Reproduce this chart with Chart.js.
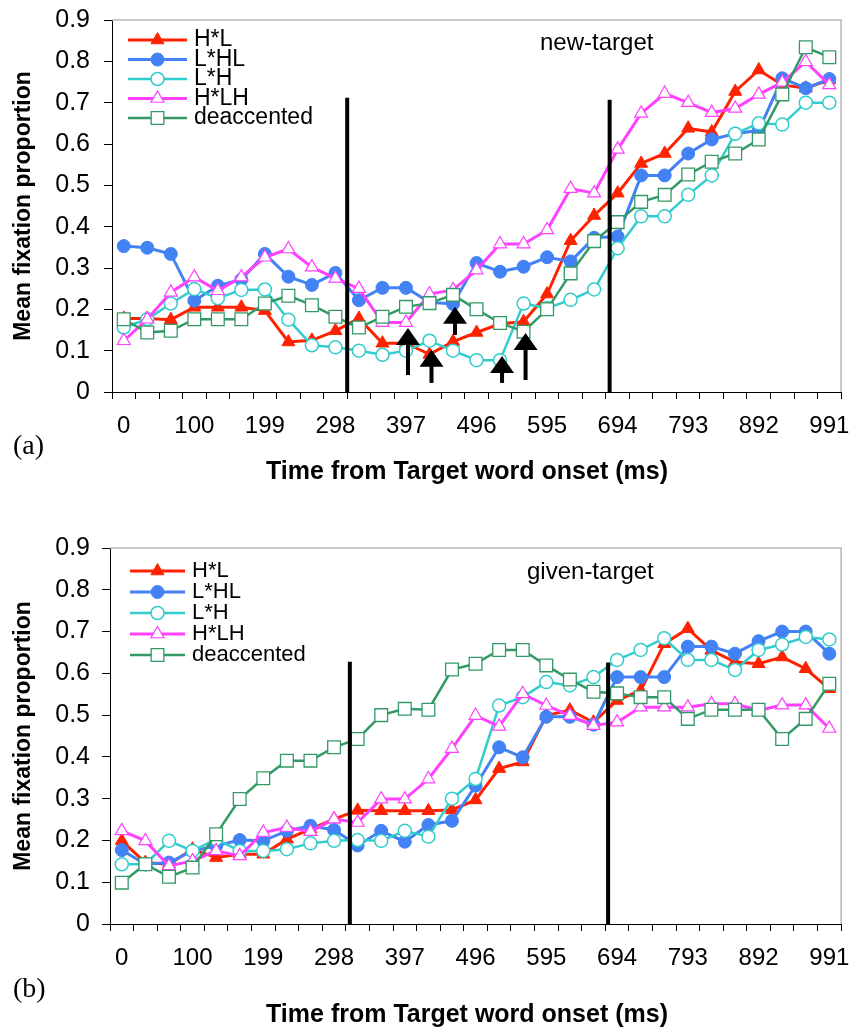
<!DOCTYPE html>
<html>
<head>
<meta charset="utf-8">
<script src="https://cdn.jsdelivr.net/npm/chart.js@4.4.0/dist/chart.umd.min.js"></script>
<style>
  body { margin: 0; background: #fff; }
  .painel { position: absolute; left: 0; }
</style>
</head>
<body>
<div class="painel" style="top:0"><canvas id="graficoA" width="862" height="520"></canvas></div>
<div class="painel" style="top:520px"><canvas id="graficoB" width="862" height="510"></canvas></div>
<script>
// Rótulos do eixo x (um por intervalo de ~33 ms, só cada terceiro aparece)
var timeLabels = ['0', '', '', '100', '', '', '199', '', '', '298', '', '', '397', '', '', '496', '', '',
                  '595', '', '', '694', '', '', '793', '', '', '892', '', '', '991'];
var seriesNames = ['H*L', 'L*HL', 'L*H', 'H*LH', 'deaccented'];

// (a) new-target
var newHL   = [0.178, 0.178, 0.175, 0.205, 0.205, 0.205, 0.197, 0.121, 0.125, 0.148, 0.178, 0.118, 0.118, 0.091, 0.122, 0.144,
               0.165, 0.170, 0.237, 0.366, 0.427, 0.481, 0.553, 0.577, 0.638, 0.629, 0.727, 0.779, 0.743, 0.735, 0.755];
var newLHL  = [0.353, 0.349, 0.334, 0.221, 0.257, 0.272, 0.334, 0.279, 0.259, 0.288, 0.222, 0.252, 0.252, 0.217, 0.213, 0.312,
               0.291, 0.303, 0.326, 0.316, 0.373, 0.376, 0.524, 0.524, 0.577, 0.611, 0.625, 0.633, 0.759, 0.735, 0.757];
var newLH   = [0.156, 0.176, 0.214, 0.249, 0.227, 0.247, 0.248, 0.175, 0.113, 0.108, 0.100, 0.090, 0.100, 0.124, 0.100, 0.077,
               0.077, 0.214, 0.203, 0.223, 0.248, 0.348, 0.425, 0.425, 0.477, 0.524, 0.625, 0.650, 0.647, 0.700, 0.700];
var newHLH  = [0.124, 0.176, 0.241, 0.278, 0.245, 0.278, 0.326, 0.346, 0.302, 0.275, 0.250, 0.168, 0.168, 0.237, 0.247, 0.295,
               0.358, 0.358, 0.392, 0.492, 0.481, 0.587, 0.674, 0.722, 0.700, 0.676, 0.686, 0.720, 0.749, 0.799, 0.743];
var newDeac = [0.176, 0.144, 0.148, 0.176, 0.176, 0.176, 0.214, 0.233, 0.210, 0.182, 0.156, 0.182, 0.206, 0.215, 0.235, 0.200,
               0.167, 0.146, 0.200, 0.287, 0.365, 0.411, 0.460, 0.477, 0.526, 0.557, 0.577, 0.611, 0.720, 0.834, 0.810];

// (b) given-target
var givenHL   = [0.199, 0.147, 0.143, 0.179, 0.159, 0.167, 0.167, 0.203, 0.227, 0.251, 0.272, 0.271, 0.271, 0.271, 0.273, 0.297,
                 0.372, 0.388, 0.499, 0.512, 0.483, 0.535, 0.559, 0.671, 0.707, 0.655, 0.627, 0.623, 0.639, 0.611, 0.563];
var givenLHL  = [0.177, 0.143, 0.147, 0.175, 0.187, 0.201, 0.199, 0.223, 0.235, 0.225, 0.188, 0.223, 0.197, 0.237, 0.247, 0.331,
                 0.423, 0.399, 0.496, 0.496, 0.477, 0.591, 0.591, 0.591, 0.664, 0.664, 0.647, 0.677, 0.700, 0.700, 0.647];
var givenLH   = [0.143, 0.143, 0.199, 0.175, 0.203, 0.175, 0.175, 0.179, 0.193, 0.199, 0.201, 0.199, 0.223, 0.209, 0.300, 0.347,
                 0.523, 0.543, 0.579, 0.571, 0.591, 0.632, 0.656, 0.684, 0.632, 0.632, 0.608, 0.656, 0.669, 0.687, 0.681];
var givenHLH  = [0.223, 0.199, 0.139, 0.151, 0.175, 0.163, 0.219, 0.231, 0.221, 0.251, 0.243, 0.299, 0.299, 0.347, 0.420, 0.499,
                 0.473, 0.551, 0.523, 0.499, 0.475, 0.483, 0.519, 0.519, 0.519, 0.527, 0.527, 0.511, 0.524, 0.524, 0.468];
var givenDeac = [0.099, 0.143, 0.113, 0.135, 0.215, 0.299, 0.349, 0.391, 0.391, 0.423, 0.443, 0.500, 0.515, 0.513, 0.609, 0.623,
                 0.656, 0.656, 0.619, 0.585, 0.556, 0.552, 0.543, 0.543, 0.491, 0.513, 0.513, 0.513, 0.443, 0.491, 0.575];

// Linhas verticais pretas (posição em unidades de categoria e altura)
var newLines = [9.5, 20.66];
var newLineTops = [0.712, 0.707];
var givenLines = [9.67, 20.62];
var givenLineTops = [0.628, 0.626];

// Setas do painel (a)
var arrowCats = [12, 13, 14, 16, 17];
var arrowTops = [0.155, 0.102, 0.206, 0.087, 0.143];
var arrowBottoms = [0.041, 0.022, 0.138, 0.022, 0.029];

var fonte = "'Liberation Sans', Arial, sans-serif";

// Estilo de cada série (na ordem da legenda)
var estilos = [
    { cor: '#ff2200', fundo: '#ff2200', ponto: 'triangle', raio: 7.5, linha: 3, borda: 1 },
    { cor: '#4282f4', fundo: '#4282f4', ponto: 'circle', raio: 6.5, linha: 3, borda: 1 },
    { cor: '#33cccc', fundo: '#ffffff', ponto: 'circle', raio: 6.5, linha: 2.5, borda: 1.5 },
    { cor: '#ff40ff', fundo: '#ffffff', ponto: 'triangle', raio: 7.5, linha: 3, borda: 1.2 },
    { cor: '#339966', fundo: '#ffffff', ponto: 'rect', raio: 9, linha: 2.5, borda: 1.3 }
];

// Desenha um marcador igual ao do Chart.js (usado na legenda)
function desenharMarcador(ctx, est, x, y) {
    var r = est.raio;
    ctx.beginPath();
    if (est.ponto === 'triangle') {
        var s = Math.sin(2 * Math.PI / 3) * r;
        ctx.moveTo(x, y - r);
        ctx.lineTo(x + s, y + r / 2);
        ctx.lineTo(x - s, y + r / 2);
        ctx.closePath();
    } else if (est.ponto === 'rect') {
        var h = Math.SQRT1_2 * r;
        ctx.rect(x - h, y - h, 2 * h, 2 * h);
    } else {
        ctx.arc(x, y, r, 0, Math.PI * 2);
    }
    ctx.fillStyle = est.fundo;
    ctx.strokeStyle = est.cor;
    ctx.lineWidth = est.borda;
    ctx.fill();
    ctx.stroke();
}

// Plugin com linhas, setas, legenda e textos extras
function criarSobreposicao(cfg) {
    return {
        id: 'sobreposicao',
        afterDatasetsDraw: function (chart) {
            var ctx = chart.ctx;
            var area = chart.chartArea;
            var xs = chart.scales.x;
            var ys = chart.scales.y;
            ctx.save();

            // moldura cinza (topo e direita)
            ctx.strokeStyle = '#b4b4b4';
            ctx.lineWidth = 1.5;
            ctx.beginPath();
            ctx.moveTo(area.left, area.top);
            ctx.lineTo(area.right, area.top);
            ctx.lineTo(area.right, area.bottom);
            ctx.stroke();

            // linhas verticais
            ctx.strokeStyle = '#000';
            ctx.lineWidth = 4;
            cfg.linhas.forEach(function (pos, i) {
                var px = xs.getPixelForValue(pos);
                ctx.beginPath();
                ctx.moveTo(px, ys.getPixelForValue(0));
                ctx.lineTo(px, ys.getPixelForValue(cfg.topos[i]));
                ctx.stroke();
            });

            // setas
            if (cfg.setas) {
                ctx.fillStyle = '#000';
                cfg.setas.cats.forEach(function (c, i) {
                    var px = xs.getPixelForValue(c) + 2;
                    var yt = ys.getPixelForValue(cfg.setas.topos[i]);
                    var yb = ys.getPixelForValue(cfg.setas.bases[i]);
                    ctx.fillRect(px - 2, yt + 15, 4, yb - yt - 15);
                    ctx.beginPath();
                    ctx.moveTo(px, yt);
                    ctx.lineTo(px + 12, yt + 17);
                    ctx.lineTo(px - 12, yt + 17);
                    ctx.closePath();
                    ctx.fill();
                });
            }

            // legenda
            var leg = cfg.legenda;
            ctx.font = leg.tamanho + 'px ' + fonte;
            ctx.textBaseline = 'middle';
            ctx.textAlign = 'left';
            seriesNames.forEach(function (nome, i) {
                var est = estilos[i];
                var ly = leg.y + i * leg.passo;
                ctx.strokeStyle = est.cor;
                ctx.lineWidth = est.linha;
                ctx.beginPath();
                ctx.moveTo(leg.x1, ly);
                ctx.lineTo(leg.x2, ly);
                ctx.stroke();
                desenharMarcador(ctx, est, (leg.x1 + leg.x2) / 2, ly);
                ctx.fillStyle = '#000';
                ctx.fillText(nome, leg.xTexto, ly);
            });

            // nome do painel
            ctx.fillStyle = '#000';
            ctx.font = '24px ' + fonte;
            ctx.fillText(cfg.nome, cfg.nomeX, cfg.nomeY);

            // título do eixo x
            ctx.font = 'bold 25px ' + fonte;
            ctx.textAlign = 'center';
            ctx.fillText('Time from Target word onset (ms)', cfg.tituloX, cfg.tituloY);

            // letra do painel
            ctx.font = "28px 'Liberation Serif', 'Times New Roman', serif";
            ctx.textAlign = 'left';
            ctx.fillText(cfg.letra, 13, cfg.letraY);

            ctx.restore();
        }
    };
}

function criarGrafico(id, dados, cfg) {
    var datasets = dados.map(function (valores, i) {
        var est = estilos[i];
        return {
            label: seriesNames[i],
            data: valores,
            borderColor: est.cor,
            backgroundColor: est.fundo,
            borderWidth: est.linha,
            pointStyle: est.ponto,
            pointRadius: est.raio,
            pointBackgroundColor: est.fundo,
            pointBorderColor: est.cor,
            pointBorderWidth: est.borda,
            tension: 0,
            order: 5 - i
        };
    });

    var ctx = document.getElementById(id).getContext('2d');
    return new Chart(ctx, {
        type: 'line',
        data: { labels: timeLabels, datasets: datasets },
        options: {
            responsive: false,
            animation: false,
            devicePixelRatio: 1,
            events: [],
            layout: { padding: { top: cfg.topo, right: cfg.direita, left: 0, bottom: 0 } },
            plugins: { legend: { display: false }, tooltip: { enabled: false } },
            scales: {
                x: {
                    type: 'category',
                    offset: true,
                    afterFit: function (scale) { scale.height = cfg.alturaX; },
                    border: { display: true, color: '#000', width: 1 },
                    grid: { offset: true, drawOnChartArea: false, drawTicks: true, tickLength: 7, color: '#000', lineWidth: 1 },
                    ticks: {
                        autoSkip: false, maxRotation: 0, minRotation: 0, padding: 12.5,
                        color: '#000', font: { family: fonte, size: 24 }
                    }
                },
                y: {
                    min: 0,
                    max: 0.9,
                    afterFit: function (scale) {
                        // largura fixa e sem folga extra acima/abaixo
                        scale.width = cfg.esquerda;
                        scale.paddingTop = 0;
                        scale.paddingBottom = 0;
                    },
                    border: { display: true, color: '#000', width: 1 },
                    grid: { drawOnChartArea: false, drawTicks: true, tickLength: 8, color: '#000', lineWidth: 1 },
                    ticks: {
                        stepSize: 0.1, padding: cfg.padY, color: '#000',
                        font: { family: fonte, size: 25 },
                        callback: function (v) { return v === 0 ? '0' : v.toFixed(1); }
                    },
                    title: {
                        display: true,
                        text: 'Mean fixation proportion',
                        color: '#000',
                        font: { family: fonte, size: 23, weight: 'bold' },
                        padding: { top: 10, bottom: 0 }
                    }
                }
            }
        },
        plugins: [criarSobreposicao(cfg)]
    });
}

criarGrafico('graficoA', [newHL, newLHL, newLH, newHLH, newDeac], {
    topo: 20, direita: 9, esquerda: 112, alturaX: 128, padY: 14,
    linhas: newLines, topos: newLineTops,
    setas: { cats: arrowCats, topos: arrowTops, bases: arrowBottoms },
    legenda: { y: 40, passo: 19.5, x1: 128, x2: 187, xTexto: 194, tamanho: 23 },
    nome: 'new-target', nomeX: 540, nomeY: 43,
    tituloX: 467, tituloY: 472,
    letra: '(a)', letraY: 447
});

criarGrafico('graficoB', [givenHL, givenLHL, givenLH, givenHLH, givenDeac], {
    topo: 28, direita: 5, esquerda: 110, alturaX: 106, padY: 12,
    linhas: givenLines, topos: givenLineTops,
    setas: null,
    legenda: { y: 51, passo: 21, x1: 130, x2: 185, xTexto: 192, tamanho: 22 },
    nome: 'given-target', nomeX: 527, nomeY: 52,
    tituloX: 467, tituloY: 495,
    letra: '(b)', letraY: 470
});
</script>
</body>
</html>
